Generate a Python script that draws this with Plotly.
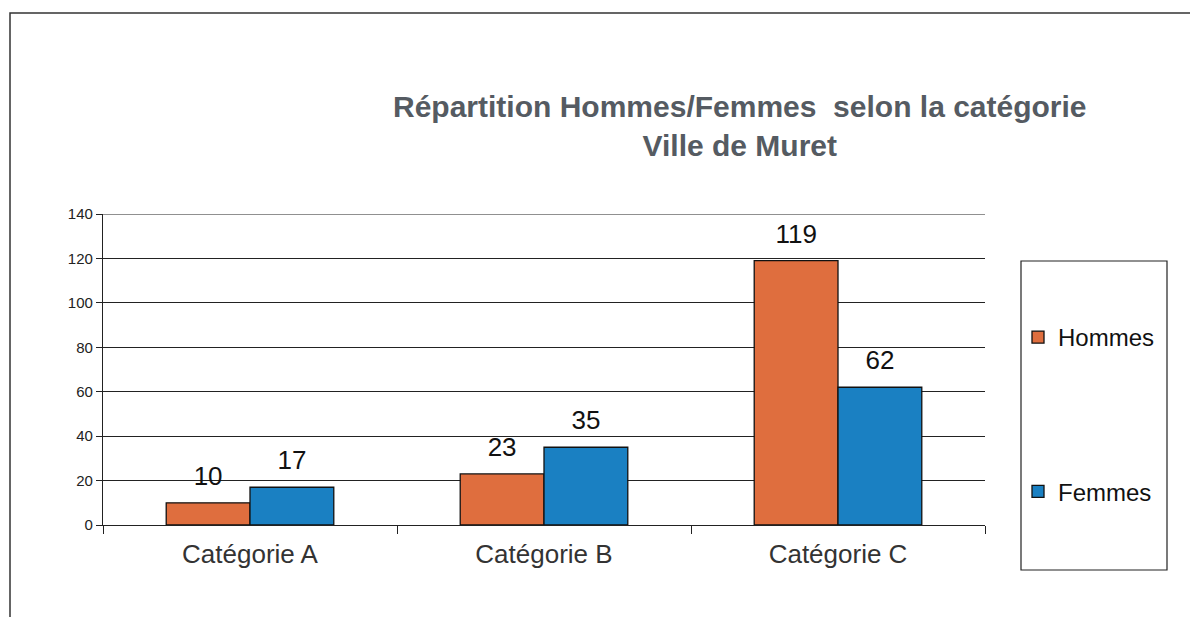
import plotly.graph_objects as go

categories = ["Catégorie A", "Catégorie B", "Catégorie C"]
hommes = [10, 23, 119]
femmes = [17, 35, 62]
y_ticks = [0, 20, 40, 60, 80, 100, 120, 140]

FONT = "Liberation Sans, Arial, sans-serif"

OFF = 8  # page body margin
# plot area in reference pixels
L, R, T, B = 103, 985, 214, 525
W, H = 1198 - OFF, 617 - OFF
def px(x):
    return (x - L) / (R - L)
def py(y):
    return (B - y) / (B - T)

# value label, followed by an invisible small line to lift it above the bar
LABEL_TPL = "<span style='font-size:26px'>%{y}</span><br><span style='color:rgba(0,0,0,0)'>.</span>"

fig = go.Figure()
fig.add_trace(go.Bar(
    name="Hommes", x=categories, y=hommes,
    texttemplate=LABEL_TPL,
    textposition="outside", cliponaxis=False,
    textfont=dict(size=10, color="#111111", family=FONT),
    marker=dict(color="#DF6E3E", line=dict(color="#111111", width=1.3)),
    legendgroup="h",
))
fig.add_trace(go.Bar(
    name="Femmes", x=categories, y=femmes,
    texttemplate=LABEL_TPL,
    textposition="outside", cliponaxis=False,
    textfont=dict(size=10, color="#111111", family=FONT),
    marker=dict(color="#1A80C2", line=dict(color="#111111", width=1.3)),
    legendgroup="f",
))

shapes = [
    # outer frame
    dict(type="rect", xref="paper", yref="paper",
         x0=px(10), x1=px(1215), y0=py(640), y1=py(13),
         line=dict(color="#333333", width=1.5), fillcolor="rgba(0,0,0,0)", layer="below"),
    # legend frame
    dict(type="rect", xref="paper", yref="paper",
         x0=px(1021), x1=px(1167), y0=py(570), y1=py(261),
         line=dict(color="#222222", width=1.2), fillcolor="rgba(0,0,0,0)"),
    # top gridline at 140
    dict(type="line", xref="paper", yref="y", x0=0, x1=1, y0=140, y1=140,
         line=dict(color="#222222", width=1.2), layer="below"),
]

annotations = [
    dict(text="Répartition Hommes/Femmes  selon la catégorie<br>Ville de Muret",
         xref="paper", yref="paper", x=px(740), y=py(126),
         xanchor="center", yanchor="middle", showarrow=False,
         font=dict(size=30, color="#555B62", family=FONT, weight="bold")),
]

fig.update_layout(
    width=W, height=H,
    margin=dict(l=L - OFF, r=W - (R - OFF), t=T - OFF, b=H - (B - OFF), pad=0),
    paper_bgcolor="white", plot_bgcolor="white",
    barmode="group", bargap=0.43, bargroupgap=0,
    showlegend=True,
    legend=dict(
        x=px(1018), y=py(315), xanchor="left", yanchor="top",
        font=dict(size=24, color="#111111", family=FONT),
        traceorder="grouped", tracegroupgap=120,
        bgcolor="rgba(0,0,0,0)", itemwidth=30,
    ),
    xaxis=dict(
        type="category", tickson="boundaries", ticks="outside", ticklen=8,
        tickcolor="#222222", showline=True, linecolor="#222222", linewidth=1.2,
        tickfont=dict(size=26, color="#333333", family=FONT),
        ticklabelstandoff=6,
        showgrid=False, zeroline=False,
    ),
    yaxis=dict(
        range=[0, 140], tickvals=y_ticks, ticks="outside", ticklen=6,
        tickcolor="#222222", showline=True, linecolor="#222222", linewidth=1.2,
        showgrid=True, gridcolor="#222222", gridwidth=1.2,
        tickfont=dict(size=15, color="#222222", family=FONT),
        zeroline=False,
    ),
    shapes=shapes,
    annotations=annotations,
)

fig.write_html("out.html")
